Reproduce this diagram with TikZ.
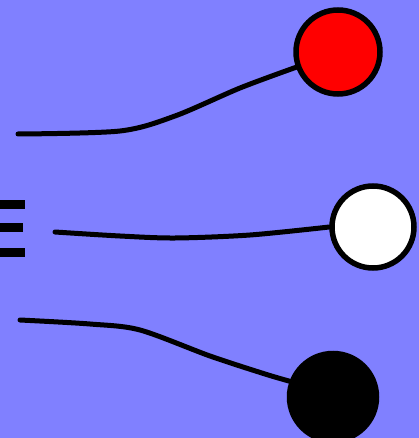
\documentclass[tikz,border=0pt]{standalone}
\usepackage{tikz}
\usetikzlibrary{positioning}
\definecolor{bgblue}{HTML}{8080FF}
\begin{document}
\begin{tikzpicture}[
  x=1pt,y=-1pt,
  ball/.style={circle,draw=black,line width=5.5pt,inner sep=0pt,minimum size=#1},
  wire/.style={line width=5pt,line cap=round,line join=round},
  bar/.style={fill=black}
]
  \fill[bgblue] (0,0) rectangle (419,438);
  \useasboundingbox (0,0) rectangle (419,438);
  % balls
  \node[ball=84pt,fill=red]   (red)   at (338,52)  {};
  \node[ball=82pt,fill=white] (white) at (373,227) {};
  \node[ball=87pt,fill=black] (black) at (333,397) {};
  % loose ends
  \coordinate (t0) at (18,134);
  \coordinate (m0) at (55,232);
  \coordinate (b0) at (20,320);
  % wires
  \draw[wire] plot[smooth,tension=0.5] coordinates
    {(t0) (120,131) (175,116) (240,88) (red.200)};
  \draw[wire] plot[smooth,tension=0.5] coordinates
    {(m0) (120,236) (175,238) (250,235) (white.west)};
  \draw[wire] plot[smooth,tension=0.5] coordinates
    {(b0) (90,324) (140,330) (210,356) (265,374) (black.160)};
  % bars on the left
  \fill[bar] (0,200) rectangle (25,209);
  \fill[bar] (0,223) rectangle (23,232);
  \fill[bar] (0,248) rectangle (25,257);
\end{tikzpicture}
\end{document}
